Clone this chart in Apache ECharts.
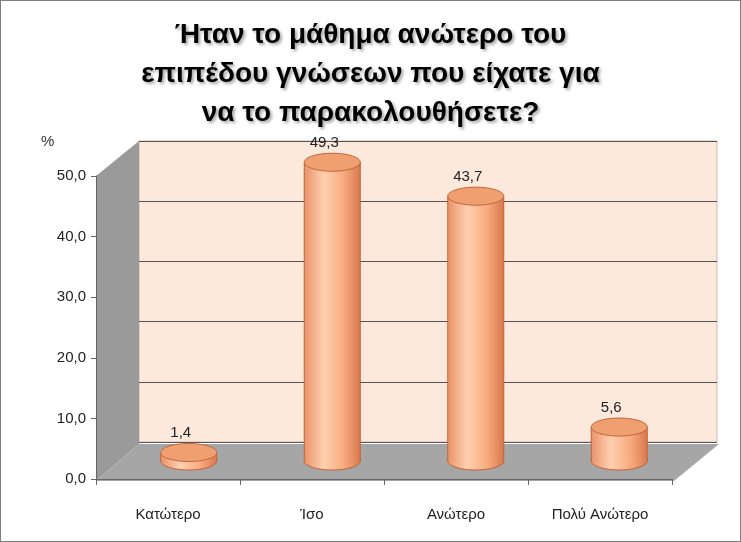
<!DOCTYPE html>
<html><head><meta charset="utf-8">
<script src="https://cdn.jsdelivr.net/npm/echarts@6/dist/echarts.min.js"></script>
<style>html,body{margin:0;padding:0;background:#fff}#c{width:739px;height:540px;border:1px solid #7f7f7f}</style>
</head><body><div id="c"></div>
<script>
const categories = ['Κατώτερο', 'Ίσο', 'Ανώτερο', 'Πολύ Ανώτερο'];
const values = [1.4, 49.3, 43.7, 5.6];
const yTicks = [0, 10, 20, 30, 40, 50];

const chart = echarts.init(document.getElementById('c'));
const fmt = v => Number(v).toFixed(1).replace('.', ',');
const cylGrad = new echarts.graphic.LinearGradient(0, 0, 1, 0, [
  {offset: 0, color: '#e8936a'}, {offset: 0.35, color: '#ffd0b0'},
  {offset: 0.7, color: '#f8ab80'}, {offset: 1, color: '#d9784d'}]);

chart.setOption({
  animation: false,
  title: {
    text: 'Ήταν το μάθημα ανώτερο του\nεπιπέδου γνώσεων που είχατε για\nνα το παρακολουθήσετε?',
    left: 'center', top: 10,
    textStyle: {fontFamily: 'Liberation Sans', fontSize: 28, fontWeight: 'bold', lineHeight: 39, color: '#000',
      textShadowColor: 'rgba(0,0,0,0.35)', textShadowBlur: 3, textShadowOffsetX: 2, textShadowOffsetY: 2}
  },
  graphic: [
    {type: 'polygon', shape: {points: [[95, 175], [138, 140], [138, 443], [95, 480]]}, style: {fill: '#9a9a9a'}, z: -1},
    {type: 'polygon', shape: {points: [[95, 480], [138, 443], [718, 443], [673, 480]]}, style: {fill: '#a6a6a6'}, z: -1},
    {type: 'text', left: 40, top: 133, style: {text: '%', fontSize: 15, fill: '#333', fontFamily: 'Liberation Sans'}}
  ],
  grid: [
    {left: 95, right: 68, top: 175, bottom: 62},
    {left: 138, right: 23, top: 140, bottom: 99, show: true, backgroundColor: '#fde9dc', borderColor: '#c8b8ae', borderWidth: 1, z: -2},
    {left: 116, right: 49, top: 157, bottom: 80}
  ],
  xAxis: [
    {gridIndex: 0, type: 'category', data: categories, axisTick: {show: true, length: 6, lineStyle: {color: '#666'}},
     axisLine: {lineStyle: {color: '#666'}}, axisLabel: {fontSize: 15, color: '#222', margin: 28, fontFamily: 'Liberation Sans'}},
    {gridIndex: 1, type: 'category', data: categories, show: false},
    {gridIndex: 2, type: 'category', data: categories, show: false}
  ],
  yAxis: [
    {gridIndex: 0, type: 'value', min: 0, max: 50, interval: 10, axisLine: {show: true, lineStyle: {color: '#666'}},
     axisTick: {show: true, lineStyle: {color: '#666'}}, splitLine: {show: false},
     axisLabel: {fontSize: 15, color: '#222', margin: 10, formatter: v => yTicks.includes(v) ? fmt(v) : '', fontFamily: 'Liberation Sans'}},
    {gridIndex: 1, type: 'value', min: 0, max: 50, interval: 10, axisLabel: {show: false}, axisLine: {show: false},
     splitLine: {lineStyle: {color: '#555', width: 1}}},
    {gridIndex: 2, type: 'value', min: 0, max: 50, interval: 10, show: false}
  ],
  series: [{
    type: 'custom', xAxisIndex: 2, yAxisIndex: 2,
    data: values.map((v, i) => [i, v]),
    renderItem: (params, api) => {
      const top = api.coord([api.value(0), api.value(1)]);
      const base = api.coord([api.value(0), 0]);
      const w = 56, rx = w / 2, ry = 9;
      return {type: 'group', children: [
        {type: 'ellipse', shape: {cx: base[0], cy: base[1], rx, ry}, style: {fill: cylGrad, stroke: '#c0643a', lineWidth: 1}},
        {type: 'rect', shape: {x: base[0] - rx, y: top[1], width: w, height: base[1] - top[1]}, style: {fill: cylGrad}},
        {type: 'line', shape: {x1: base[0] - rx, y1: top[1], x2: base[0] - rx, y2: base[1]}, style: {stroke: '#c0643a'}},
        {type: 'line', shape: {x1: base[0] + rx, y1: top[1], x2: base[0] + rx, y2: base[1]}, style: {stroke: '#c0643a'}},
        {type: 'ellipse', shape: {cx: top[0], cy: top[1], rx, ry}, style: {fill: '#f0a070', stroke: '#c0643a', lineWidth: 1}},
        {type: 'text', x: top[0] - 8, y: top[1] - 12, style: {text: fmt(api.value(1)), fontSize: 15, fill: '#222',
          align: 'center', verticalAlign: 'bottom', fontFamily: 'Liberation Sans'}}
      ]};
    }
  }]
});
</script></body></html>
